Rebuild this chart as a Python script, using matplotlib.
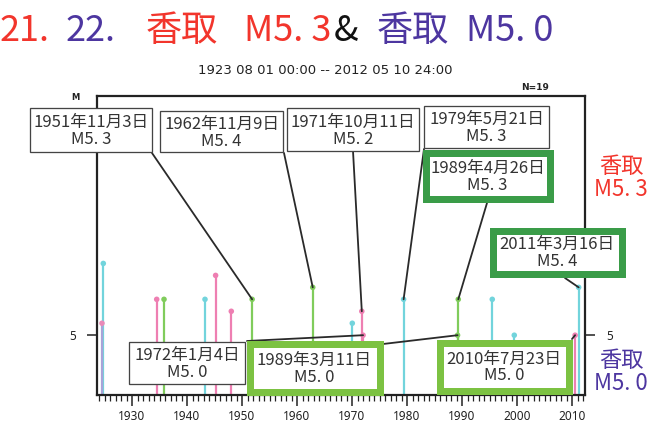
import matplotlib
matplotlib.use("Agg")
import matplotlib.pyplot as plt
from matplotlib.patches import Rectangle, ConnectionPatch

# Datos: sismos M5.0 y mayores cerca de 香取 (1923-2012)
ev_year = [1924.78, 1924.54, 1934.49, 1935.82, 1943.27, 1945.20, 1948.05,
           1951.84, 1962.86, 1970.05, 1971.78, 1972.01, 1979.38, 1989.19,
           1989.32, 1995.50, 1999.50, 2010.56, 2011.21]
ev_mag = [5.6, 5.1, 5.3, 5.3, 5.3, 5.5, 5.2,
          5.3, 5.4, 5.1, 5.2, 5.0, 5.3, 5.0,
          5.3, 5.3, 5.0, 5.0, 5.4]
ev_kind = ["c", "p", "r", "g", "c", "r", "r",
           "g", "g", "c", "r", "r", "c", "g",
           "g", "c", "c", "r", "c"]

# Eventos anotados (indice en las listas de arriba)
ann_idx = [7, 8, 10, 12, 14, 18, 11, 13, 17]
ann_date = ["1951年11月3日", "1962年11月9日", "1971年10月11日", "1979年5月21日",
            "1989年4月26日", "2011年3月16日", "1972年1月4日", "1989年3月11日",
            "2010年7月23日"]

title_parts = ["21.", "22.", "香取", "M5. 3", "&", "香取", "M5. 0"]
subtitle = "1923 08 01 00:00 -- 2012 05 10 24:00"
n_label = "N=19"

# Estilos
W, H = 651, 429
RED = "#f2352c"
PURPLE = "#4d36a0"
DKGREEN = "#3a9c48"
LTGREEN = "#7cc242"
stem_col = {"c": "#72d4dc", "p": "#a9a3d8", "r": "#ee7fb2", "g": "#80cc5c"}
dot_col = {"c": "#72d4dc", "p": "#e98ab8", "r": "#ee7fb2", "g": "#80cc5c"}
JP = ["Noto Sans CJK JP", "DejaVu Sans"]

# caja: (x0, y0, x1, y1) en pixeles (y desde arriba), borde, ancho borde, ancla de la linea
boxes = [
    ((30, 108, 152, 152), "#444444", 1.3, (152, 153)),
    ((160, 111, 283, 152), "#444444", 1.3, (284, 153)),
    ((287, 108, 419, 151), "#444444", 1.3, (353, 151)),
    ((424, 106, 549, 148), "#444444", 1.3, (424, 149)),
    ((422, 149, 553, 203), DKGREEN, 7, (487, 203)),
    ((489, 227, 625, 277), DKGREEN, 7, (565, 278)),
    ((129, 342, 245, 384), "#444444", 1.3, (247, 341)),
    ((246, 340, 383, 395), LTGREEN, 7, (383, 344)),
    ((436, 339, 572, 394), LTGREEN, 7, (572, 339)),
]


def fx(x):
    return x / W


def fy(y):
    return 1 - y / H


def mag_text(m):
    return "M" + ("%.1f" % m).replace(".", ". ")


fig = plt.figure(figsize=(W / 100, H / 100), dpi=100)
ax = fig.add_axes([fx(96.7), fy(395), (585 - 96.7) / W, (395 - 96) / H])

ax.vlines(ev_year, 4.5, ev_mag, colors=[stem_col[k] for k in ev_kind],
          lw=1.6, zorder=2)
ax.scatter(ev_year, ev_mag, s=16, c=[dot_col[k] for k in ev_kind],
           zorder=3, linewidths=0)

ax.set_xlim(1923.58, 2012.36)
ax.set_ylim(4.5, 7.0)
ax.set_xticks(range(1930, 2011, 10))
ax.set_xticks(range(1924, 2013), minor=True)
ax.set_yticks([5])
ax.set_yticks([], minor=True)
for s in ax.spines.values():
    s.set_linewidth(1.6)
    s.set_color("#222222")
ax.tick_params(axis="x", which="major", direction="out", length=8, width=1.1,
               labelsize=8.5, pad=3, colors="#222222")
ax.tick_params(axis="x", which="minor", direction="out", length=4, width=0.9,
               colors="#222222")
ax.tick_params(axis="y", which="major", direction="out", length=7, width=1.1,
               left=True, right=True, labelleft=True, labelright=True,
               labelsize=8.5, pad=8, colors="#222222")
for lab in ax.get_xticklabels() + ax.get_yticklabels():
    lab.set_family("Noto Sans")

# Lineas de las anotaciones
for (box, ec, lw, anc), i in zip(boxes, ann_idx):
    con = ConnectionPatch(xyA=(fx(anc[0]), fy(anc[1])), coordsA=fig.transFigure,
                          xyB=(ev_year[i], ev_mag[i]), coordsB=ax.transData,
                          color="#2a2a2a", lw=1.3, zorder=4)
    fig.add_artist(con)

# Cajas con fecha y magnitud
for (box, ec, lw, anc), i, d in zip(boxes, ann_idx, ann_date):
    x0, y0, x1, y1 = box
    inset = lw / 2 if lw > 2 else 0
    r = Rectangle((fx(x0 + inset), fy(y1 - inset)),
                  (x1 - x0 - 2 * inset) / W, (y1 - y0 - 2 * inset) / H,
                  transform=fig.transFigure, facecolor="white", edgecolor=ec,
                  lw=lw * 0.72, zorder=5)
    fig.add_artist(r)
    fig.text(fx((x0 + x1) / 2), fy((y0 + y1) / 2 + 1),
             d + "\n" + mag_text(ev_mag[i]),
             ha="center", va="center", fontsize=12, family=JP, color="#333333",
             linespacing=1.0, multialignment="center", zorder=6)

# Titulo
title_x = [0, 66, 146, 244, 334, 377, 466]
title_c = [RED, PURPLE, RED, RED, "#111111", PURPLE, PURPLE]
for s, x, c in zip(title_parts, title_x, title_c):
    fig.text(fx(x), fy(31), s, color=c, fontsize=26, family=JP,
             ha="left", va="center")

fig.text(fx(325), fy(70), subtitle, ha="center", va="center", fontsize=9.5,
         family="DejaVu Sans", color="#222222")
fig.text(fx(535), fy(88), n_label, ha="center", va="center", fontsize=6.5,
         fontweight="bold", family="DejaVu Sans", color="#222222")
fig.text(fx(75), fy(97), "M", ha="center", va="center", fontsize=6,
         fontweight="bold", family="DejaVu Sans", color="#222222")

# Leyendas a la derecha
fig.text(fx(621), fy(178), "香取\nM5. 3", color=RED, fontsize=16, family=JP,
         ha="center", va="center", linespacing=1.0)
fig.text(fx(621), fy(372), "香取\nM5. 0", color=PURPLE, fontsize=16, family=JP,
         ha="center", va="center", linespacing=1.0)

fig.savefig("out.png", dpi=100)
